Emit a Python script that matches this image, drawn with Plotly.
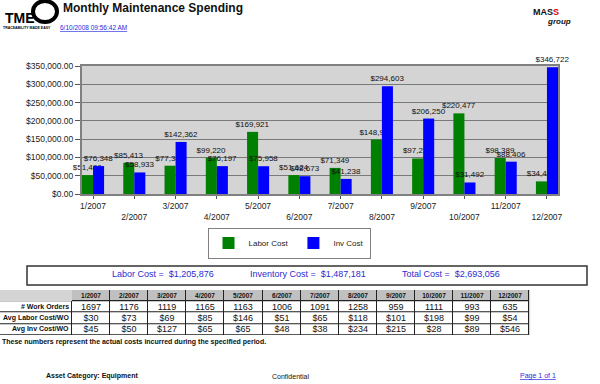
import plotly.graph_objects as go

months = ["1/2007", "2/2007", "3/2007", "4/2007", "5/2007", "6/2007",
          "7/2007", "8/2007", "9/2007", "10/2007", "11/2007", "12/2007"]
labor_cost = [51480, 85413, 77346, 99220, 169921, 51624, 71349, 148961, 97234, 220477, 98389, 34462]
inv_cost = [76348, 58933, 142362, 76197, 75958, 48673, 41238, 294603, 206250, 31492, 88406, 346722]
work_orders = [1697, 1176, 1119, 1165, 1163, 1006, 1091, 1258, 959, 1111, 993, 635]
avg_labor = [30, 73, 69, 85, 146, 51, 65, 118, 101, 198, 99, 54]
avg_inv = [45, 50, 127, 65, 65, 48, 38, 234, 215, 28, 89, 546]
y_ticks = [0, 50000, 100000, 150000, 200000, 250000, 300000, 350000]
row_labels = ["# Work Orders", "Avg Labor Cost/WO", "Avg Inv Cost/WO"]

W, H = 600, 384
def px(x):
    return x / W
def py(y):
    return 1 - y / H

FONT = "Liberation Sans, Arial, sans-serif"
NARROW = "Liberation Sans Narrow, Arial Narrow, Liberation Sans, sans-serif"

fig = go.Figure()
fig.add_trace(go.Bar(x=months, y=labor_cost, name="Labor Cost", marker_color="#008000",
                     marker_line_width=0, texttemplate="%{y:$,.0f}", textposition="outside",
                     textfont=dict(size=8, color="#111", family=FONT), cliponaxis=False,
                     constraintext="none", hoverinfo="skip"))
fig.add_trace(go.Bar(x=months, y=inv_cost, name="Inv Cost", marker_color="#0000ff",
                     marker_line_width=0, texttemplate="%{y:$,.0f}", textposition="outside",
                     textfont=dict(size=8, color="#111", family=FONT), cliponaxis=False,
                     constraintext="none", hoverinfo="skip"))

ticktext = [m if i % 2 == 0 else "<br>" + m for i, m in enumerate(months)]

# ---- summary table drawn as heatmaps on a second pair of axes ----
label_w = 72.0
col_w = 38.1
ncol = len(months)
edges_all = [0.0, label_w] + [label_w + col_w * (k + 1) for k in range(ncol)]
edges_months = edges_all[1:]
table_right = edges_all[-1]

# dark underlay that shows through the cell gaps as grid lines
fig.add_trace(go.Heatmap(x=[0, label_w, table_right], y=[0, 1, 4],
                         z=[[None, 0], [0, 0]], colorscale=[[0, "#222"], [1, "#222"]],
                         showscale=False, hoverinfo="skip", xaxis="x2", yaxis="y2"))
# header row
fig.add_trace(go.Heatmap(x=edges_months, y=[0, 1], z=[[1] * ncol],
                         text=[["<b>" + m + "</b>" for m in months]], texttemplate="%{text}",
                         textfont=dict(size=6.5, color="#111", family=FONT),
                         colorscale=[[0, "#c0c0c0"], [1, "#c0c0c0"]], showscale=False,
                         xgap=1, ygap=1, hoverinfo="skip", xaxis="x2", yaxis="y2"))
# data rows
data_text = [[""] + [str(v) for v in work_orders],
             [""] + ["$" + str(v) for v in avg_labor],
             [""] + ["$" + str(v) for v in avg_inv]]
fig.add_trace(go.Heatmap(x=edges_all, y=[1, 2, 3, 4], z=[[0] * (ncol + 1)] * 3,
                         text=data_text, texttemplate="%{text}",
                         textfont=dict(size=9, color="#111", family=NARROW),
                         colorscale=[[0, "white"], [1, "white"]], showscale=False,
                         xgap=1, ygap=1, hoverinfo="skip", xaxis="x2", yaxis="y2"))
for r, lab in enumerate(row_labels):
    fig.add_annotation(text="<b>" + lab + "</b>", xref="x2", yref="y2", x=label_w - 1.5,
                       y=r + 1.5, showarrow=False, xanchor="right", yanchor="middle",
                       font=dict(size=7, color="#111", family=FONT))

fig.update_layout(
    width=W, height=H,
    margin=dict(l=0, r=0, t=0, b=0, pad=0, autoexpand=False),
    paper_bgcolor="white",
    plot_bgcolor="#d4d4d4",
    font=dict(family=FONT, color="#222", size=9),
    barmode="group", bargap=0.465, bargroupgap=0,
    xaxis=dict(domain=[px(82), px(558)], range=[-0.2675, 11.2675], automargin=False,
               tickvals=months, ticktext=ticktext, ticks="outside", ticklen=3,
               tickcolor="#555", showline=True, linecolor="#808080", linewidth=2,
               mirror=True, tickfont=dict(size=8.5, color="#222"), showgrid=False),
    yaxis=dict(domain=[py(194), py(66)], range=[0, 350000], tickvals=y_ticks, automargin=False,
               tickformat="$,.2f", ticks="outside", ticklen=5, tickcolor="#555",
               showline=True, linecolor="#808080", linewidth=2, mirror=True,
               gridcolor="#7a7a7a", gridwidth=1, tickfont=dict(size=8.5, color="#222"),
               zeroline=False),
    xaxis2=dict(domain=[0, px(table_right + 1)], range=[0, table_right + 1], visible=False,
                anchor="y2", automargin=False, fixedrange=True),
    yaxis2=dict(domain=[py(335), py(290)], range=[4, 0], visible=False, anchor="x2",
                automargin=False, fixedrange=True),
    legend=dict(orientation="h", x=px(289), xanchor="center", y=py(243), yanchor="middle",
                bordercolor="#808080", borderwidth=1, bgcolor="white",
                font=dict(size=8, color="#222"), itemwidth=30, tracegroupgap=0),
    showlegend=True,
)

# Totals box
fig.add_shape(type="rect", xref="paper", yref="paper", x0=px(27), x1=px(587),
              y0=py(285), y1=py(266), line=dict(color="#333", width=1.5))
blue = "#2b2bd0"
totals = [("Labor Cost =  $1,205,876", 163), ("Inventory Cost =  $1,487,181", 308),
          ("Total Cost =  $2,693,056", 451)]
for txt, x in totals:
    fig.add_annotation(text=txt, xref="paper", yref="paper", x=px(x), y=py(274),
                       showarrow=False, font=dict(size=9, color=blue, family=NARROW),
                       xanchor="center", yanchor="middle")

# Header
fig.add_shape(type="circle", xref="paper", yref="paper", x0=px(33), x1=px(57),
              y0=py(22), y1=py(1), line=dict(color="black", width=4), fillcolor="white")
fig.add_annotation(text="<b>TME</b>", xref="paper", yref="paper", x=px(3), y=py(18),
                   showarrow=False, xanchor="left", yanchor="middle",
                   font=dict(size=14, color="black", family=FONT))
fig.add_annotation(text="<b>TRACEABILITY MADE EASY</b>", xref="paper", yref="paper", x=px(1),
                   y=py(28), showarrow=False, xanchor="left", yanchor="middle",
                   font=dict(size=3.5, color="black", family=FONT))
fig.add_annotation(text="<b>Monthly Maintenance Spending</b>", xref="paper", yref="paper",
                   x=px(61), y=py(8), showarrow=False, xanchor="left", yanchor="middle",
                   font=dict(size=12, color="#111", family=FONT))
fig.add_annotation(text="<u>6/10/2008 09:56:42 AM</u>", xref="paper", yref="paper",
                   x=px(58), y=py(27), showarrow=False, xanchor="left", yanchor="middle",
                   font=dict(size=6.5, color="#2a2ae0", family=FONT))
fig.add_annotation(text="<b>MAS<span style='color:#e00000'>S</span></b>", xref="paper",
                   yref="paper", x=px(531), y=py(12), showarrow=False, xanchor="left",
                   yanchor="middle", font=dict(size=9, color="#111", family=FONT))
fig.add_annotation(text="<b><i>group</i></b>", xref="paper", yref="paper", x=px(545),
                   y=py(22), showarrow=False, xanchor="left", yanchor="middle",
                   font=dict(size=8, color="#111", family=FONT))

# Note and footer
fig.add_annotation(text="<b>These numbers represent the actual costs incurred during the specified period.</b>",
                   xref="paper", yref="paper", x=0, y=py(342), showarrow=False,
                   xanchor="left", yanchor="middle", font=dict(size=7, color="#111", family=FONT))
fig.add_annotation(text="<b>Asset Category: Equipment</b>", xref="paper", yref="paper",
                   x=px(44), y=py(376), showarrow=False, xanchor="left", yanchor="middle",
                   font=dict(size=7, color="#111", family=FONT))
fig.add_annotation(text="Confidential", xref="paper", yref="paper",
                   x=px(290), y=py(376), showarrow=False, xanchor="center", yanchor="middle",
                   font=dict(size=7, color="#111", family=FONT))
fig.add_annotation(text="<u>Page 1 of 1</u>", xref="paper", yref="paper",
                   x=px(558), y=py(376), showarrow=False, xanchor="right", yanchor="middle",
                   font=dict(size=7, color="#2a2ae0", family=FONT))

fig.write_html("out.html", config={"displayModeBar": False},
               post_script="document.body.style.margin='0';document.body.style.overflow='hidden';")
